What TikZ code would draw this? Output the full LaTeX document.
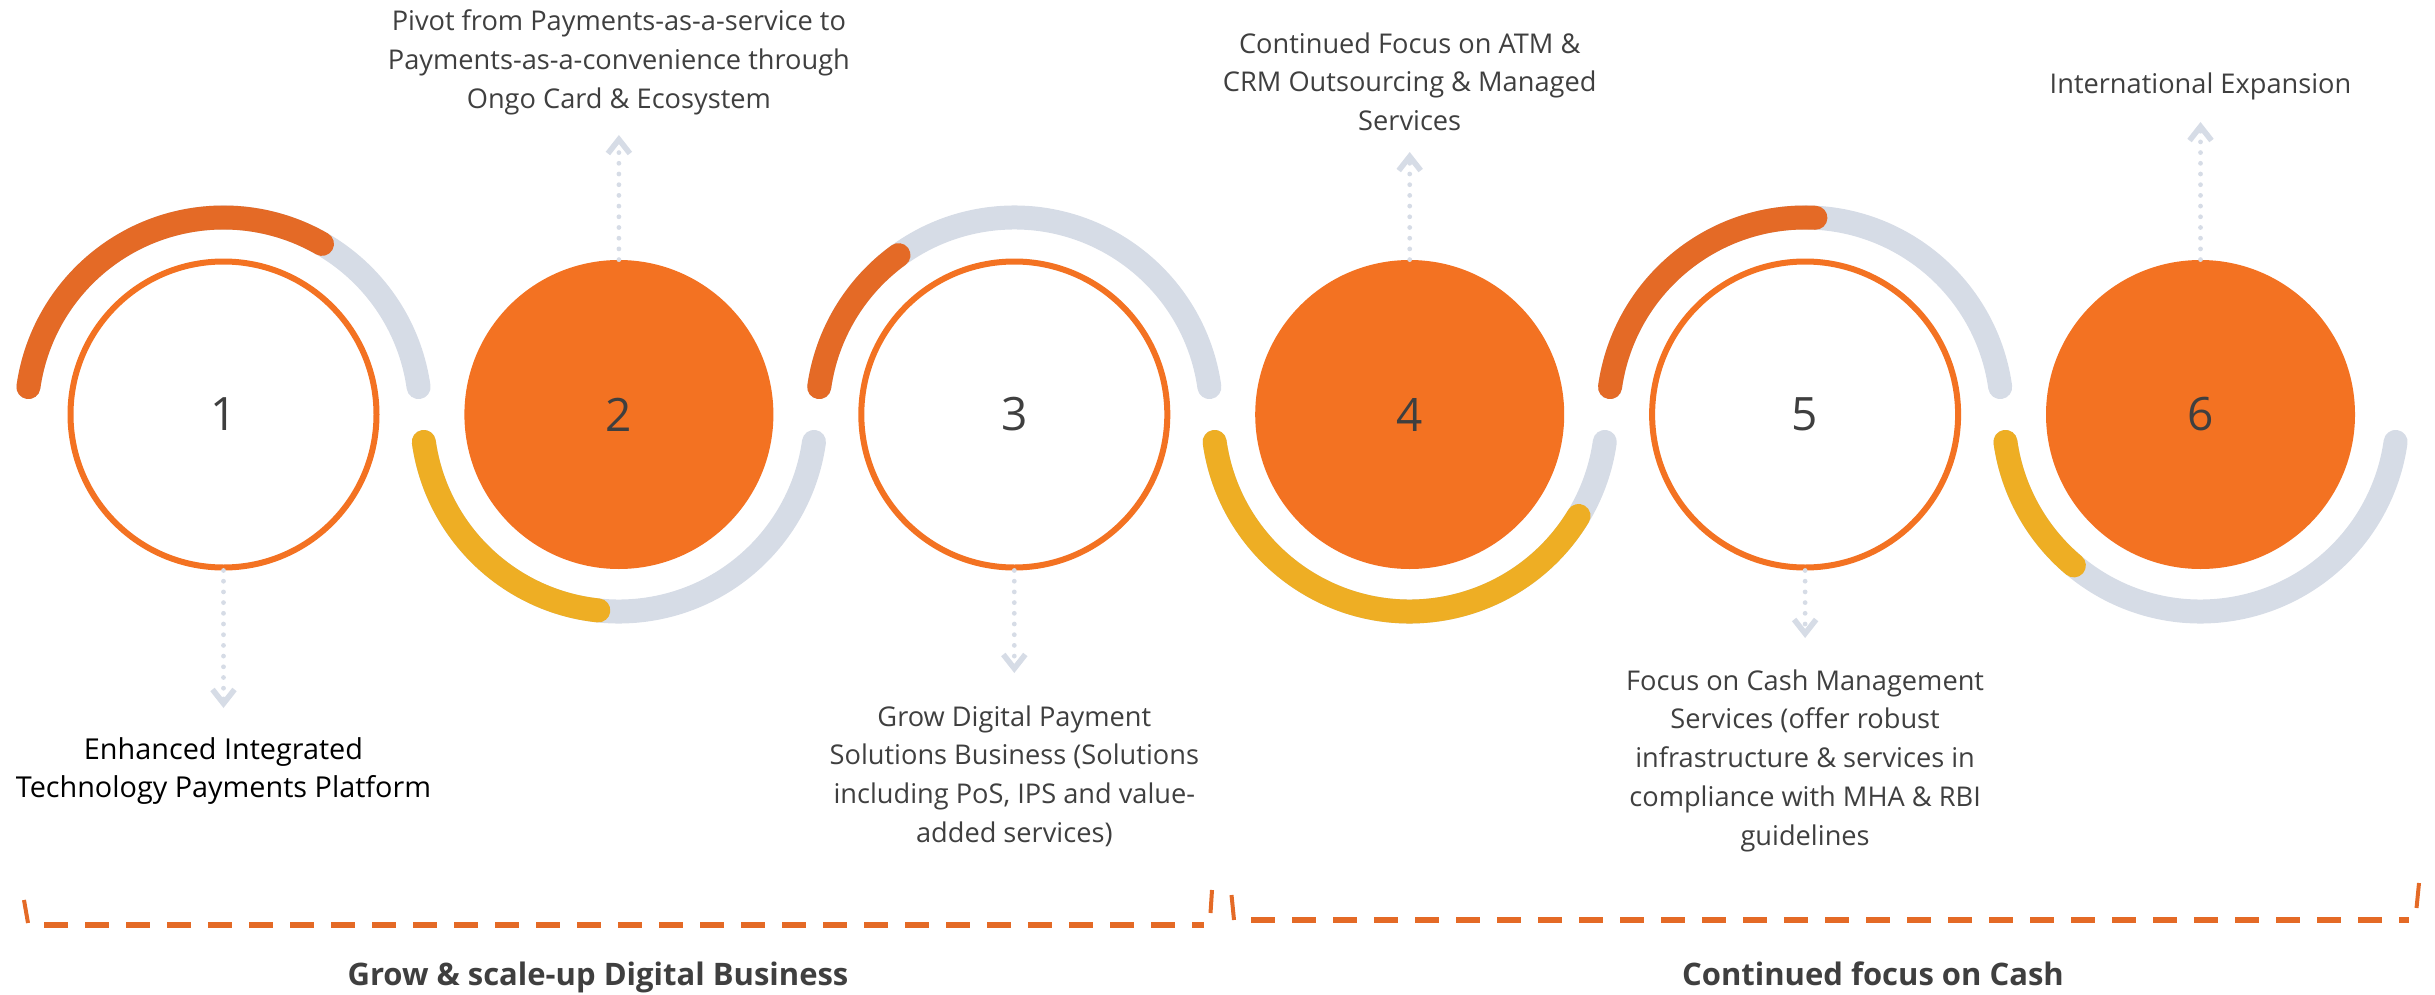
\documentclass[tikz,border=0pt]{standalone}
\usepackage{fontspec}
\setmainfont{Open Sans}
\usepackage{tikz}
\usetikzlibrary{arrows.meta,positioning}

\definecolor{discorange}{HTML}{F37222}
\definecolor{arcorange}{HTML}{E46A26}
\definecolor{arcyellow}{HTML}{EEAE24}
\definecolor{trackgray}{HTML}{D6DCE6}
\definecolor{textgray}{HTML}{3F3F3F}

\tikzset{
  ring/.style={circle, draw=discorange, line width=3pt, fill=white, minimum size=153pt, inner sep=0pt,
    text=textgray, font=\fontsize{23pt}{23pt}\selectfont},
  disc/.style={circle, fill=discorange, minimum size=154.5pt, inner sep=0pt,
    text=textgray, font=\fontsize{23pt}{23pt}\selectfont},
  track/.style={draw=trackgray, line width=12pt, line cap=round},
  note/.style={align=center, anchor=north, inner sep=0pt, text=textgray,
    font=\fontsize{13.6pt}{19.45pt}\selectfont},
  lead/.style={draw=trackgray, line width=2.4pt, line cap=round, dash pattern=on 0pt off 5.35pt,
    -{Straight Barb[length=7pt,width=11pt,line width=2.8pt]}},
  brace/.style={draw=arcorange, line width=3pt, dash pattern=on 12pt off 8.5pt},
  tick/.style={draw=arcorange, line width=2pt},
  phase/.style={anchor=base, inner sep=0pt, text=textgray,
    font=\fontsize{15.5pt}{18pt}\selectfont\bfseries}
}

\begin{document}
\begin{tikzpicture}[y=-0.5pt,x=0.5pt]
	\newcommand\TopArc{++(-8:197) arc[start angle=-8, end angle=-172, radius=197]}
	\newcommand\TopPart[1]{++(-172:197) arc[start angle=-172, end angle=#1, radius=197]}
	\newcommand\LowArc{++(172:197) arc[start angle=172, end angle=8, radius=197]}
	\newcommand\LowPart[1]{++(172:197) arc[start angle=172, end angle=#1, radius=197]}

	\useasboundingbox (0,0) rectangle (2435,995);

	% milestones
	\node[ring] (c1) at (223.5,414.5) {1};
	\node[disc] (c2) at (618.9,414.5) {2};
	\node[ring] (c3) at (1014.3,414.5) {3};
	\node[disc] (c4) at (1409.7,414.5) {4};
	\node[ring] (c5) at (1805.1,414.5) {5};
	\node[disc] (c6) at (2200.5,414.5) {6};

	% outer tracks
	\draw[track] (c1.center) \TopArc;
	\draw[track, draw=arcorange] (c1.center) \TopPart{-60};
	\draw[track] (c2.center) \LowArc;
	\draw[track, draw=arcyellow] (c2.center) \LowPart{96};
	\draw[track] (c3.center) \TopArc;
	\draw[track, draw=arcorange] (c3.center) \TopPart{-126};
	\draw[track] (c4.center) \LowArc;
	\draw[track, draw=arcyellow] (c4.center) \LowPart{31};
	\draw[track] (c5.center) \TopArc;
	\draw[track, draw=arcorange] (c5.center) \TopPart{-87};
	\draw[track] (c6.center) \LowArc;
	\draw[track, draw=arcyellow] (c6.center) \LowPart{130};

	% descriptions
	\node[note, text=black, font=\fontsize{14.4pt}{19.3pt}\selectfont] (t1) at (223.5,737) {Enhanced Integrated\\Technology Payments Platform};
	\node[note] (t2) at (618.9,9) {Pivot from Payments-as-a-service to\\Payments-as-a-convenience through\\Ongo Card \& Ecosystem};
	\node[note] (t3) at (1014.3,705) {Grow Digital Payment\\Solutions Business (Solutions\\including PoS, IPS and value-\\added services)};
	\node[note] (t4) at (1409.7,32) {Continued Focus on ATM \&\\CRM Outsourcing \& Managed\\Services};
	\node[note] (t5) at (1805.1,669) {Focus on Cash Management\\Services (offer robust\\infrastructure \& services in\\compliance with MHA \& RBI\\guidelines};
	\node[note] (t6) at (2200.5,72) {International Expansion};

	% dotted leads
	\coordinate (p1) at (223.5,708);
	\coordinate (p2) at (618.9,135);
	\coordinate (p3) at (1014.3,673);
	\coordinate (p4) at (1409.7,152);
	\coordinate (p5) at (1805.1,638);
	\coordinate (p6) at (2200.5,122);
	\draw[lead] (c1.south) -- (p1);
	\draw[lead] (c2.north) -- (p2);
	\draw[lead] (c3.south) -- (p3);
	\draw[lead] (c4.north) -- (p4);
	\draw[lead] (c5.south) -- (p5);
	\draw[lead] (c6.north) -- (p6);

	% phases
	\draw[brace] (44,925) -- (1204,925);
	\draw[tick] (24,900) -- (28,923);
	\draw[tick] (1212,890) -- (1210.5,913);
	\draw[brace] (1251,920) -- (2409,920);
	\draw[tick] (1231.5,895) -- (1234,920);
	\draw[tick] (2419,883) -- (2416.5,908);
	\node[phase] (g1) at (598,985) {Grow \& scale-up Digital Business};
	\node[phase] (g2) at (1873,985) {Continued focus on Cash};
\end{tikzpicture}
\end{document}
